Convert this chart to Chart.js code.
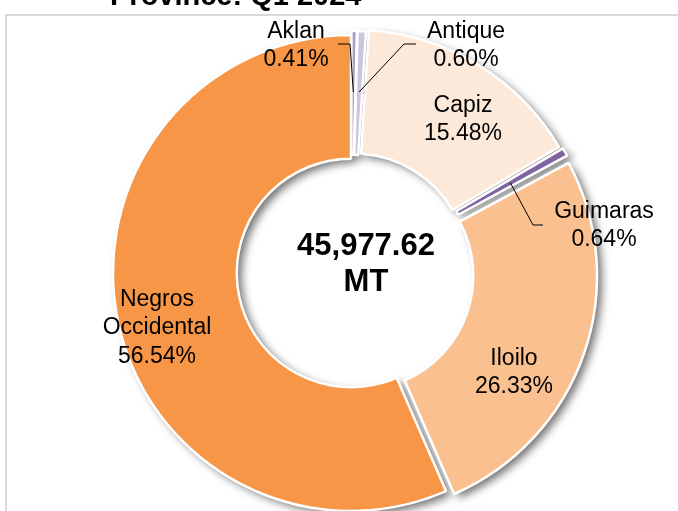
<!DOCTYPE html>
<html>
<head>
<meta charset="utf-8">
<script src="https://cdn.jsdelivr.net/npm/chart.js@4.4.1/dist/chart.umd.min.js"></script>
<style>
  html, body { margin: 0; padding: 0; background: #fff; }
</style>
</head>
<body>
<canvas id="chartProvince" width="678" height="511"></canvas>
<script>
const provinces = ['Aklan', 'Antique', 'Capiz', 'Guimaras', 'Iloilo', 'Negros Occidental'];
const shares = [0.41, 0.60, 15.48, 0.64, 26.33, 56.54];
const totalLines = ['45,977.62', 'MT'];
const titleText = 'Province: Q1 2024';

const colors = ['#A69DC3', '#CDC5DF', '#FDE9D9', '#8064A2', '#FAC090', '#F79646'];
const offsets = [8, 8, 20, 16, 34, 0];
// label block centre, relative to the doughnut centre
const labelPos = [[-55, -229], [115, -229], [112, -155], [253, -49], [163, 98], [-194, 53]];
// leader lines: [tail, elbow] relative to the centre, null when the label sits on its slice
const leaders = [[[-13, -229], [-1, -229]], [[65, -229], [53, -229]], null, [[192, -48], [182, -48]], null, null];

const FONT = "'Liberation Sans', Arial, sans-serif";
const LH = 28.5;

// shift used by ArcElement.draw for an offset slice
function arcShift(arc) {
   const p = arc.getProps(['x', 'y', 'startAngle', 'endAngle', 'innerRadius', 'outerRadius', 'circumference']);
   const off = (arc.options.offset || 0) / 4;
   const mid = (p.startAngle + p.endAngle) / 2;
   const fix = 1 - Math.sin(Math.min(Math.PI, p.circumference || 0));
   return { p, mid, dx: Math.cos(mid) * off, dy: Math.sin(mid) * off, dr: off * fix };
}

const frameTitle = {
   id: 'frameTitle',
   beforeDraw(chart) {
      const ctx = chart.ctx;
      ctx.save();
      ctx.strokeStyle = '#D9D9D9';
      ctx.lineWidth = 2;
      ctx.strokeRect(6, 15, 720, 560);
      ctx.fillStyle = '#000';
      ctx.font = 'bold 29px ' + FONT;
      ctx.textBaseline = 'alphabetic';
      ctx.fillText(titleText, 110, 5);
      ctx.restore();
   }
};

const ringShadow = {
   id: 'ringShadow',
   beforeDatasetsDraw(chart) {
      const ctx = chart.ctx;
      ctx.save();
      ctx.shadowColor = 'rgba(0,0,0,0.55)';
      ctx.shadowBlur = 9;
      ctx.shadowOffsetX = 5;
      ctx.shadowOffsetY = 4;
      ctx.fillStyle = '#fff';
      chart.getDatasetMeta(0).data.forEach(arc => {
         const { p, dx, dy, dr } = arcShift(arc);
         ctx.beginPath();
         ctx.arc(p.x + dx, p.y + dy, p.outerRadius + dr, p.startAngle, p.endAngle);
         ctx.arc(p.x + dx, p.y + dy, p.innerRadius + dr, p.endAngle, p.startAngle, true);
         ctx.closePath();
         ctx.fill();
      });
      ctx.restore();
   }
};

const sliceLabels = {
   id: 'sliceLabels',
   afterDatasetsDraw(chart) {
      const ctx = chart.ctx;
      const arcs = chart.getDatasetMeta(0).data;
      ctx.save();
      ctx.fillStyle = '#000';
      ctx.strokeStyle = '#000';
      ctx.lineWidth = 1;
      ctx.font = '23px ' + FONT;
      ctx.textAlign = 'center';
      ctx.textBaseline = 'alphabetic';
      arcs.forEach((arc, i) => {
         const { p, mid, dx, dy } = arcShift(arc);
         const cx = p.x, cy = p.y;
         const lines = provinces[i].split(' ').concat([shares[i].toFixed(2) + '%']);
         const lx = cx + labelPos[i][0], ly = cy + labelPos[i][1];
         lines.forEach((t, k) => {
            ctx.fillText(t, lx, ly + (k - (lines.length - 1) / 2) * LH + 8);
         });
         if (leaders[i]) {
            const r = (p.innerRadius + p.outerRadius) / 2 + 3;
            ctx.beginPath();
            ctx.moveTo(cx + leaders[i][0][0], cy + leaders[i][0][1]);
            ctx.lineTo(cx + leaders[i][1][0], cy + leaders[i][1][1]);
            ctx.lineTo(cx + dx + Math.cos(mid) * r, cy + dy + Math.sin(mid) * r);
            ctx.stroke();
         }
      });
      // total in the hole
      const c = arcs[0];
      ctx.font = 'bold 31px ' + FONT;
      ctx.fillText(totalLines[0], c.x + 15, c.y - 18);
      ctx.fillText(totalLines[1], c.x + 15, c.y + 18);
      ctx.restore();
   }
};

const ctx = document.getElementById('chartProvince').getContext('2d');
const chartProvince = new Chart(ctx, {
   type: 'doughnut',
   data: {
      labels: provinces,
      datasets: [{
         data: shares,
         backgroundColor: colors,
         borderColor: '#FFFFFF',
         borderWidth: 2.5,
         offset: offsets
      }]
   },
   options: {
      responsive: false,
      animation: false,
      rotation: 0,
      radius: 238,
      cutout: '48%',
      layout: { padding: { left: 24, top: 35, right: 0, bottom: 0 } },
      plugins: {
         legend: { display: false },
         tooltip: { enabled: false },
         title: { display: false }
      }
   },
   plugins: [frameTitle, ringShadow, sliceLabels]
});
</script>
</body>
</html>
